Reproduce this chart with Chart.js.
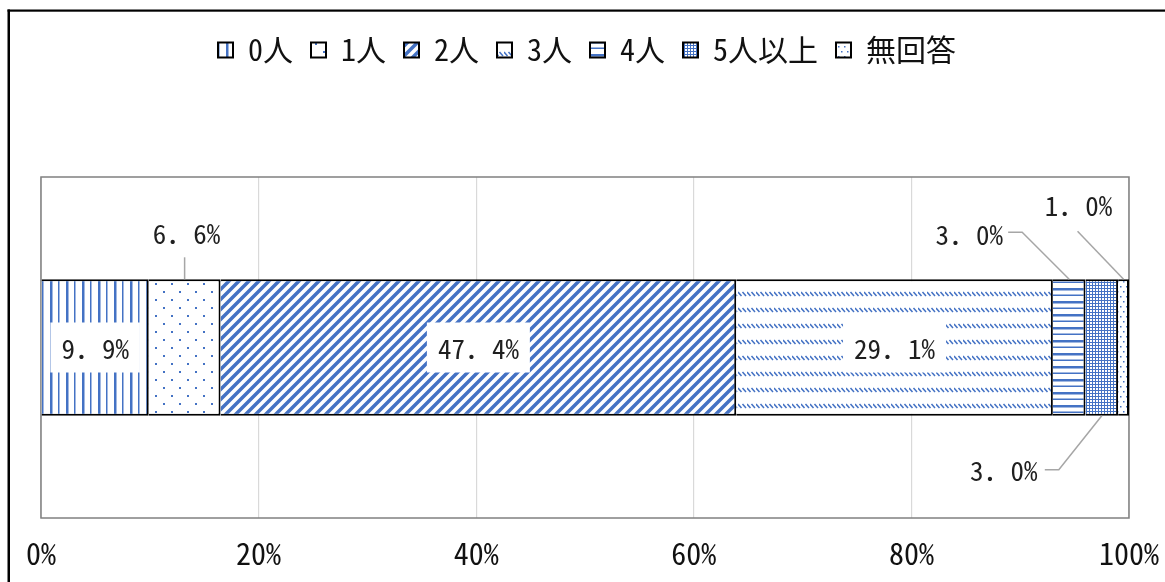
<!DOCTYPE html>
<html><head><meta charset="utf-8">
<script src="https://cdn.jsdelivr.net/npm/chart.js@4.4.1/dist/chart.umd.min.js"></script>
<style>html,body{margin:0;padding:0;background:#fff;}#wrap{width:1165px;height:582px;}</style>
</head><body><div id="wrap"><canvas id="c" width="1165" height="582"></canvas></div>
<script>
// ---- data ----
const categories = [''];
const seriesNames = ['0人', '1人', '2人', '3人', '4人', '5人以上', '無回答'];
const seriesValues = [9.9, 6.6, 47.4, 29.1, 3.0, 3.0, 1.0];
const tickLabels = ['0%', '20%', '40%', '60%', '80%', '100%'];

// ---- style ----
const FONT = '"Noto Sans Mono CJK JP", "Noto Sans CJK JP", sans-serif';
const BLUE = '#4472C4';
const canvas = document.getElementById('c');
const mainCtx = canvas.getContext('2d');

function makePattern(w, h, draw) {
  const c = document.createElement('canvas');
  c.width = w; c.height = h;
  const g = c.getContext('2d');
  g.fillStyle = '#fff'; g.fillRect(0, 0, w, h);
  g.fillStyle = BLUE; g.strokeStyle = BLUE;
  draw(g, w, h);
  return mainCtx.createPattern(c, 'repeat');
}
const patterns = [
  makePattern(16, 4, g => { g.fillRect(2, 0, 2.5, 4); g.fillRect(10, 0, 1.5, 4); }),
  makePattern(16, 16, g => { g.fillRect(3, 3, 2, 2); g.fillRect(11, 11, 2, 2); }),
  makePattern(10, 10, g => {
    g.lineWidth = 3.5; g.beginPath();
    g.moveTo(0, 10); g.lineTo(10, 0);
    g.moveTo(-2, 2); g.lineTo(2, -2);
    g.moveTo(8, 12); g.lineTo(12, 8);
    g.stroke();
  }),
  makePattern(9, 16, g => {
    g.lineWidth = 1.5; g.beginPath();
    g.moveTo(0, 4); g.lineTo(3.5, 8);
    g.moveTo(4.5, 4); g.lineTo(8, 8);
    g.stroke();
  }),
  makePattern(4, 13, g => { g.fillRect(0, 2, 4, 2.5); g.fillRect(0, 8.5, 4, 1.5); }),
  makePattern(3, 3, g => { g.fillRect(0, 0, 3, 1); g.fillRect(0, 0, 1, 3); }),
  makePattern(6, 10, g => { g.fillRect(1, 1, 1.5, 1.5); g.fillRect(4, 6, 1.5, 1.5); })
];

const labelStyle = [
  { mode: 'box' },
  { mode: 'callout', edge: 'top', line: [[0, 0], [0, -22]], text: [2, -46] },
  { mode: 'box' },
  { mode: 'box' },
  { mode: 'callout', edge: 'top', line: [[0, 0], [-47, -47], [-61, -47]], text: [-100, -45] },
  { mode: 'callout', edge: 'bottom', line: [[0, 0], [-43, 54], [-57, 54]], text: [-98, 55] },
  { mode: 'callout', edge: 'top', line: [[0, 0], [-46, -48]], text: [-45, -74] }
];

const fmt = v => v.toFixed(1).replace('.', '．') + '%';

const framePlugin = {
  id: 'frame',
  beforeInit(chart) {
    const lg = chart.legend;
    const orig = lg.fit;
    lg.fit = function () { orig.call(this); this.height += 102; };
  },
  afterLayout(chart) {
    chart.legend.left += 2; chart.legend.right += 2;
  },
  beforeDraw(chart) {
    const c = chart.ctx;
    c.save();
    c.fillStyle = '#fff'; c.fillRect(0, 0, chart.width, chart.height);
    c.fillStyle = '#000';
    c.fillRect(7.5, 9.5, chart.width, 2.2);
    c.fillRect(7.5, 9.5, 2.5, chart.height);
    c.restore();
  },
  beforeDatasetsDraw(chart) {
    const c = chart.ctx, a = chart.chartArea;
    c.save();
    c.strokeStyle = '#808080'; c.lineWidth = 1.5;
    c.strokeRect(a.left, a.top, a.right - a.left, a.bottom - a.top);
    c.restore();
  },
  afterDatasetsDraw(chart) {
    const c = chart.ctx;
    c.save();
    c.font = '27px ' + FONT;
    c.textAlign = 'center'; c.textBaseline = 'middle';
    chart.data.datasets.forEach((ds, i) => {
      const el = chart.getDatasetMeta(i).data[0];
      const cx = (el.x + el.base) / 2;
      const top = el.y - el.height / 2, bottom = el.y + el.height / 2;
      const txt = fmt(ds.data[0]);
      const st = labelStyle[i];
      if (st.mode === 'box') {
        const w = c.measureText(txt).width + 22;
        c.fillStyle = '#fff';
        c.fillRect(cx - w / 2, el.y - 25, w, 50);
        c.fillStyle = '#1f1f1f';
        c.fillText(txt, cx, el.y + 1.5);
      } else {
        const by = st.edge === 'top' ? top : bottom;
        c.strokeStyle = '#a6a6a6'; c.lineWidth = 1.5;
        c.beginPath();
        st.line.forEach((p, k) => { k ? c.lineTo(cx + p[0], by + p[1]) : c.moveTo(cx + p[0], by + p[1]); });
        c.stroke();
        c.fillStyle = '#1f1f1f';
        c.fillText(txt, cx + st.text[0], by + st.text[1]);
      }
    });
    c.restore();
  }
};

new Chart(canvas, {
  type: 'bar',
  data: {
    labels: categories,
    datasets: seriesNames.map((n, i) => ({
      label: n,
      data: [seriesValues[i]],
      backgroundColor: patterns[i],
      borderColor: '#000',
      borderWidth: 2,
      barPercentage: 0.4,
      categoryPercentage: 1
    }))
  },
  options: {
    responsive: false, animation: false, devicePixelRatio: 1, indexAxis: 'y',
    layout: { padding: { left: 41, right: 36, top: 17, bottom: -8 } },
    scales: {
      x: {
        stacked: true, min: 0, max: 100,
        grid: { color: '#d9d9d9', lineWidth: 1.2, drawTicks: false },
        border: { display: false },
        ticks: { stepSize: 20, padding: 3, color: '#111', font: { family: FONT, size: 30, lineHeight: 2.2 },
                 callback: (v, i) => tickLabels[i] }
      },
      y: { stacked: true, display: false }
    },
    plugins: {
      legend: { position: 'top', labels: { boxWidth: 15, boxHeight: 15, padding: 18, color: '#111', font: { family: FONT, size: 30 } } },
      tooltip: { enabled: false }
    }
  },
  plugins: [framePlugin]
});
</script></body></html>
